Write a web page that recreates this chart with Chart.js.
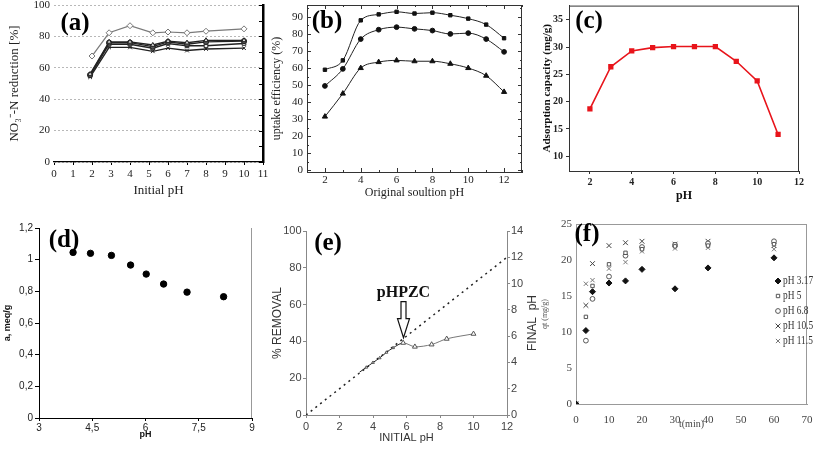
<!DOCTYPE html>
<html>
<head>
<meta charset="utf-8">
<script src="https://cdn.jsdelivr.net/npm/chart.js@4.4.1/dist/chart.umd.min.js"></script>
<style>
  html, body { margin: 0; padding: 0; background: #fff; }
  #wrap { position: relative; width: 813px; height: 450px; overflow: hidden; }
  #wrap canvas { position: absolute; }
</style>
</head>
<body>
<div id="wrap">
  <canvas id="ca" width="270" height="215" style="left:0;top:0"></canvas>
  <canvas id="cb" width="270" height="215" style="left:270px;top:0"></canvas>
  <canvas id="cc" width="273" height="215" style="left:540px;top:0"></canvas>
  <canvas id="cd" width="270" height="235" style="left:0;top:215px"></canvas>
  <canvas id="ce" width="270" height="235" style="left:270px;top:215px"></canvas>
  <canvas id="cf" width="273" height="235" style="left:540px;top:215px"></canvas>
</div>
<script>
// ── Data ─────────────────────────────────────────────────────────────────────

// (a) NO3-N reduction vs initial pH
const aPhUpper = [2, 2.9, 4, 5.2, 6, 7, 8, 10];
const aPhLower = [1.9, 2.9, 4, 5.2, 6, 7, 8, 10];
const aSeries1 = [67.5, 82.3, 86.8, 82.3, 82.8, 82.3, 83.3, 84.8];
const aSeries2 = [56, 76.5, 76.5, 74.5, 77, 76, 77.5, 77.5];
const aSeries3 = [55.5, 76, 76, 73.5, 76.5, 75, 76.5, 77];
const aSeries4 = [55, 75, 75, 72.5, 75.5, 74, 74, 75.5];
const aSeries5 = [54, 73, 73, 70.5, 72.5, 71, 72, 72.5];

// (b) uptake efficiency vs original solution pH
const bPh = [2, 3, 4, 5, 6, 7, 8, 9, 10, 11, 12];
const bSquares = [59, 64.5, 88, 91.5, 93, 92, 92.5, 91, 89, 85.5, 77.5];
const bCircles = [49.5, 59.5, 77, 82.5, 84, 83, 82, 80, 80.5, 77, 69.5];
const bTriangles = [31.5, 45, 60, 63.5, 64.5, 64, 64, 62.5, 60, 55.5, 46];

// (c) adsorption capacity vs pH
const cPh = [2, 3, 4, 5, 6, 7, 8, 9, 10, 11];
const cCapacity = [18.7, 26.4, 29.3, 29.9, 30.1, 30.1, 30.1, 27.4, 23.8, 14.0];

// (d) a (meq/g) vs pH
const dPh = [3.96, 4.45, 5.04, 5.58, 6.02, 6.51, 7.17, 8.2];
const dA = [1.046, 1.04, 1.027, 0.966, 0.909, 0.846, 0.795, 0.766];

// (e) % removal and final pH vs initial pH
const eInitialPh = [3.2, 3.6, 4.0, 4.4, 4.8, 5.2, 5.8, 6.5, 7.5, 8.4, 10.0];
const eRemoval = [23.3, 25.9, 28.5, 31.0, 34.0, 36.5, 39.2, 37.1, 38.3, 41.4, 44.1];
const eDiagPh = [0, 12];
const ePzc = 5.8;

// (f) qt vs time
const fTime = [0, 3, 5, 10, 15, 20, 30, 40, 60];
const fLabels = ['pH 3.17', 'pH 5', 'pH 6.8', 'pH 10.5', 'pH 11.5'];
const fPh317 = [0, 10.2, 15.6, 16.8, 17.1, 18.7, 16.0, 18.9, 20.3];
const fPh5 = [0, 12.1, 16.4, 19.4, 21.0, 21.5, 21.9, 22.0, 22.2];
const fPh68 = [0, 8.8, 14.6, 17.7, 20.6, 21.8, 22.1, 22.3, 22.6];
const fPh105 = [0, 13.7, 19.5, 22.0, 22.4, 22.6, 22.2, 22.6, 22.0];
const fPh115 = [0, 16.7, 17.2, 18.8, 19.7, 21.2, 21.6, 21.7, 21.5];

// ── Setup ────────────────────────────────────────────────────────────────────

const SERIF = "'Liberation Serif', 'Times New Roman', serif";
const SANS = "'Liberation Sans', Arial, sans-serif";

Chart.defaults.animation = false;
Chart.defaults.responsive = false;
Chart.defaults.devicePixelRatio = 1;
Chart.defaults.events = [];
Chart.defaults.plugins.legend.display = false;
Chart.defaults.plugins.tooltip.enabled = false;
Chart.defaults.font.family = SERIF;

const pts = (xs, ys) => xs.map((x, i) => ({ x, y: ys[i] }));
// pin axis sizes so the plot areas land where the reference has them
const fixW = w => s => { s.width = w; s.paddingTop = 0; s.paddingBottom = 0; };
const fixH = h => s => { s.height = h; s.paddingLeft = 0; s.paddingRight = 0; };
const comma = v => String(+Number(v).toFixed(2)).replace('.', ',');

// ── Small plugins ────────────────────────────────────────────────────────────

function framePlugin(sides, color, width = 1) {
  return {
    id: 'frame',
    afterDatasetsDraw(chart) {
      const { left, right, top, bottom } = chart.chartArea;
      const ctx = chart.ctx;
      ctx.save();
      ctx.strokeStyle = color;
      ctx.lineWidth = width;
      ctx.beginPath();
      if (sides.includes('top')) { ctx.moveTo(left, top + 0.5); ctx.lineTo(right, top + 0.5); }
      if (sides.includes('right')) { ctx.moveTo(right - 0.5, top); ctx.lineTo(right - 0.5, bottom); }
      ctx.stroke();
      ctx.restore();
    }
  };
}

function innerTicksPlugin(specs, color) {
  return {
    id: 'innerTicks',
    afterDatasetsDraw(chart) {
      const a = chart.chartArea;
      const ctx = chart.ctx;
      ctx.save();
      ctx.strokeStyle = color;
      ctx.lineWidth = 1;
      ctx.beginPath();
      for (const s of specs) {
        const scale = chart.scales[s.id];
        for (const t of scale.ticks) {
          const r = s.majorStep ? t.value / s.majorStep : 0;
          const len = Math.abs(r - Math.round(r)) < 1e-6 ? s.len : s.minorLen;
          const p = Math.round(scale.getPixelForValue(t.value)) + 0.5;
          for (const side of s.sides) {
            if (side === 'left') { ctx.moveTo(a.left, p); ctx.lineTo(a.left + len, p); }
            if (side === 'right') { ctx.moveTo(a.right, p); ctx.lineTo(a.right - len, p); }
            if (side === 'bottom') { ctx.moveTo(p, a.bottom); ctx.lineTo(p, a.bottom - len); }
            if (side === 'top') { ctx.moveTo(p, a.top); ctx.lineTo(p, a.top + len); }
          }
        }
      }
      ctx.stroke();
      ctx.restore();
    }
  };
}

function notesPlugin(items) {
  return {
    id: 'notes',
    afterDraw(chart) {
      const ctx = chart.ctx;
      for (const it of items) {
        ctx.save();
        ctx.translate(it.x, it.y);
        if (it.rotate) ctx.rotate(it.rotate);
        ctx.font = it.font;
        ctx.fillStyle = it.color || '#000';
        ctx.textAlign = 'center';
        ctx.textBaseline = 'middle';
        ctx.fillText(it.text, 0, 0);
        ctx.restore();
      }
    }
  };
}

// hollow down-arrow pointing at the PZC on panel (e), with its label
function pzcArrowPlugin(xVal, yVal, label) {
  return {
    id: 'pzcArrow',
    afterDraw(chart) {
      const ctx = chart.ctx;
      const x = Math.round(chart.scales.x.getPixelForValue(xVal)) + 0.5;
      const tip = chart.scales.y.getPixelForValue(yVal);
      const top = tip - 36, neck = tip - 19;
      ctx.save();
      ctx.beginPath();
      ctx.moveTo(x - 2.5, top);
      ctx.lineTo(x + 2.5, top);
      ctx.lineTo(x + 2.5, neck);
      ctx.lineTo(x + 6, neck);
      ctx.lineTo(x, tip);
      ctx.lineTo(x - 6, neck);
      ctx.lineTo(x - 2.5, neck);
      ctx.closePath();
      ctx.fillStyle = '#fff';
      ctx.fill();
      ctx.strokeStyle = '#111';
      ctx.lineWidth = 1.2;
      ctx.stroke();
      ctx.font = `bold 16px ${SERIF}`;
      ctx.fillStyle = '#111';
      ctx.textAlign = 'center';
      ctx.textBaseline = 'middle';
      ctx.fillText(label, x, top - 9);
      ctx.restore();
    }
  };
}

// legend inside panel (f): marker + narrow serif text
function markerLegendPlugin(x, y, dy) {
  return {
    id: 'markerLegend',
    afterDraw(chart) {
      const ctx = chart.ctx;
      chart.data.datasets.forEach((ds, i) => {
        const yy = y + i * dy;
        ctx.save();
        ctx.fillStyle = ds.pointBackgroundColor;
        ctx.strokeStyle = ds.pointBorderColor;
        ctx.lineWidth = 1;
        Chart.helpers.drawPoint(ctx, { pointStyle: ds.pointStyle, radius: ds.pointRadius, borderWidth: 1, rotation: 0 }, x, yy);
        ctx.translate(x + 5, yy);
        ctx.scale(0.78, 1);
        ctx.font = `12px ${SERIF}`;
        ctx.fillStyle = '#333';
        ctx.textAlign = 'left';
        ctx.textBaseline = 'middle';
        ctx.fillText(ds.label, 0, 0);
        ctx.restore();
      });
    }
  };
}

// ── (a) ──────────────────────────────────────────────────────────────────────

const lowerA = (ys, style, fill) => ({
  data: pts(aPhLower, ys), showLine: true, borderColor: '#222', borderWidth: 1.4,
  pointStyle: style, pointRadius: 2.6, pointBackgroundColor: fill, pointBorderColor: '#222', pointBorderWidth: 1
});

new Chart(document.getElementById('ca'), {
  type: 'scatter',
  data: {
    datasets: [
      { data: pts(aPhUpper, aSeries1), showLine: true, borderColor: '#7a7a7a', borderWidth: 1.2,
        pointStyle: 'rectRot', pointRadius: 3, pointBackgroundColor: '#fff', pointBorderColor: '#777', pointBorderWidth: 1 },
      lowerA(aSeries2, 'triangle', '#ddd'),
      lowerA(aSeries3, 'circle', '#555'),
      lowerA(aSeries4, 'rect', '#eee'),
      lowerA(aSeries5, 'crossRot', '#222')
    ]
  },
  options: {
    layout: { padding: { left: 7, top: 5, right: 0, bottom: 17 } },
    scales: {
      x: {
        min: 0, max: 11,
        ticks: { stepSize: 1, autoSkip: false, maxRotation: 0, color: '#222', font: { size: 11 }, padding: 3 },
        grid: { drawOnChartArea: false, tickLength: 3, color: '#000' },
        border: { color: '#000', width: 1.2 },
        title: { display: true, text: 'Initial pH', font: { size: 13 }, color: '#222', padding: 0 },
        afterFit: fixH(36)
      },
      y: {
        min: 0, max: 100,
        ticks: { stepSize: 20, color: '#222', font: { size: 11 }, padding: 4 },
        grid: { color: '#b8b8b8', drawTicks: false },
        border: { display: false, dash: [2, 2] },
        title: { display: true, text: 'NO₃⁻-N reduction [%]', font: { size: 13 }, color: '#222', padding: 0 },
        afterFit: fixW(47)
      },
      y2: {
        position: 'right', min: 0, max: 100,
        ticks: { display: false, stepSize: 10 },
        grid: { drawOnChartArea: false, drawTicks: false },
        border: { color: '#000', width: 2.5 },
        afterFit: fixW(7)
      }
    }
  },
  plugins: [
    innerTicksPlugin([{ id: 'y2', sides: ['right'], len: 4 }], '#000'),
    notesPlugin([{ text: '(a)', x: 75, y: 24, font: `bold 25px ${SERIF}` }])
  ]
});

// ── (b) ──────────────────────────────────────────────────────────────────────

const curveB = (ys, style, r) => ({
  data: pts(bPh, ys), showLine: true, cubicInterpolationMode: 'monotone',
  borderColor: '#222', borderWidth: 1, pointStyle: style, pointRadius: r,
  pointBackgroundColor: '#111', pointBorderColor: '#111'
});

new Chart(document.getElementById('cb'), {
  type: 'scatter',
  data: { datasets: [curveB(bSquares, 'rect', 2.4), curveB(bCircles, 'circle', 2.4), curveB(bTriangles, 'triangle', 3)] },
  options: {
    layout: { padding: { left: 0, top: 4, right: 18, bottom: 15 } },
    scales: {
      x: {
        min: 1, max: 13,
        ticks: { stepSize: 1, includeBounds: false, autoSkip: false, maxRotation: 0, color: '#222', font: { size: 11 }, padding: 2,
                 callback: v => (v % 2 === 0 ? v : '') },
        grid: { display: false, drawTicks: false },
        border: { color: '#333', width: 1 },
        title: { display: true, text: 'Original soultion pH', font: { size: 12 }, color: '#222', padding: 0 },
        afterFit: fixH(28)
      },
      y: {
        min: -1, max: 97,
        ticks: { stepSize: 5, includeBounds: false, autoSkip: false, color: '#222', font: { size: 11 }, padding: 4,
                 callback: v => (v % 10 === 0 ? v : '') },
        grid: { display: false, drawTicks: false },
        border: { color: '#333', width: 1 },
        title: { display: true, text: 'uptake efficiency (%)', font: { size: 12 }, color: '#222', padding: 0 },
        afterFit: fixW(37)
      }
    }
  },
  plugins: [
    framePlugin(['top', 'right'], '#333'),
    innerTicksPlugin([
      { id: 'x', sides: ['bottom', 'top'], len: 4, minorLen: 2, majorStep: 2 },
      { id: 'y', sides: ['left', 'right'], len: 4, minorLen: 2, majorStep: 10 }
    ], '#333'),
    notesPlugin([{ text: '(b)', x: 57, y: 22, font: `bold 25px ${SERIF}` }])
  ]
});

// ── (c) ──────────────────────────────────────────────────────────────────────

new Chart(document.getElementById('cc'), {
  type: 'scatter',
  data: {
    datasets: [{
      data: pts(cPh, cCapacity), showLine: true, borderColor: '#e8141b', borderWidth: 1.6,
      pointStyle: 'rect', pointRadius: 2.6, pointBackgroundColor: '#e8141b', pointBorderColor: '#e8141b'
    }]
  },
  options: {
    layout: { padding: { left: 1, top: 5, right: 14, bottom: 12 } },
    scales: {
      x: {
        min: 1, max: 12,
        ticks: { stepSize: 2, includeBounds: false, autoSkip: false, maxRotation: 0, color: '#222', font: { size: 10, weight: 'bold' }, padding: 2 },
        grid: { drawOnChartArea: false, tickLength: 3, color: '#333' },
        border: { color: '#333' },
        title: { display: true, text: 'pH', font: { size: 12, weight: 'bold' }, color: '#111', padding: 0 },
        afterFit: fixH(32)
      },
      y: {
        min: 7.3, max: 37.6,
        ticks: { stepSize: 5, includeBounds: false, color: '#222', font: { size: 10, weight: 'bold' }, padding: 3 },
        grid: { drawOnChartArea: false, tickLength: 3, color: '#333' },
        border: { color: '#333' },
        title: { display: true, text: 'Adsorption capacity (mg/g)', font: { size: 11, weight: 'bold' }, color: '#111', padding: 0 },
        afterFit: fixW(28)
      }
    }
  },
  plugins: [
    framePlugin(['top', 'right'], '#333'),
    notesPlugin([{ text: '(c)', x: 49, y: 22, font: `bold 25px ${SERIF}` }])
  ]
});

// ── (d) ──────────────────────────────────────────────────────────────────────

new Chart(document.getElementById('cd'), {
  type: 'scatter',
  data: {
    datasets: [{ data: pts(dPh, dA), pointRadius: 3.2, pointBackgroundColor: '#000', pointBorderColor: '#000' }]
  },
  options: {
    layout: { padding: { left: 2, top: 13, right: 18, bottom: 10 } },
    scales: {
      x: {
        min: 3, max: 9,
        ticks: { stepSize: 1.5, autoSkip: false, maxRotation: 0, color: '#222', font: { family: SANS, size: 10 }, padding: 1, callback: comma },
        grid: { drawOnChartArea: false, tickLength: 3, color: '#000' },
        border: { color: '#000' },
        title: { display: true, text: 'pH', font: { family: SANS, size: 9, weight: 'bold' }, color: '#111', padding: 0 },
        afterFit: fixH(22)
      },
      y: {
        min: 0, max: 1.2,
        ticks: { stepSize: 0.2, color: '#222', font: { family: SANS, size: 10 }, padding: 2, callback: comma },
        grid: { drawOnChartArea: false, tickLength: 4, color: '#000' },
        border: { color: '#000' },
        title: { display: true, text: 'a, meq/g', font: { family: SANS, size: 9, weight: 'bold' }, color: '#111', padding: 0 },
        afterFit: fixW(37)
      }
    }
  },
  plugins: [
    framePlugin(['right'], '#999'),
    notesPlugin([{ text: '(d)', x: 64, y: 26, font: `bold 25px ${SERIF}` }])
  ]
});

// ── (e) ──────────────────────────────────────────────────────────────────────

const greyAxis = (extra) => Object.assign({
  grid: { drawOnChartArea: false, tickLength: 3, color: '#888' },
  border: { color: '#888' }
}, extra);

new Chart(document.getElementById('ce'), {
  type: 'scatter',
  data: {
    datasets: [
      {
        data: pts(eInitialPh, eRemoval), showLine: true, tension: 0.3, borderWidth: 1,
        segment: { borderColor: c => (c.p1DataIndex <= 6 ? '#222' : '#777') },
        pointStyle: 'triangle', pointBackgroundColor: '#fff', pointBorderColor: '#555', pointBorderWidth: 1,
        pointRadius: c => (c.dataIndex === 0 ? 0 : c.dataIndex < 6 ? 1.6 : 2.8)
      },
      {
        data: pts(eDiagPh, eDiagPh), yAxisID: 'yR', showLine: true, borderColor: '#222',
        borderWidth: 1.5, borderDash: [2, 4], pointRadius: 0
      }
    ]
  },
  options: {
    layout: { padding: { left: 0, top: 16, right: 0, bottom: 5 } },
    scales: {
      x: greyAxis({
        min: 0, max: 12,
        ticks: { stepSize: 2, autoSkip: false, maxRotation: 0, color: '#444', font: { family: SANS, size: 11 }, padding: 2 },
        title: { display: true, text: 'INITIAL pH', font: { family: SANS, size: 11 }, color: '#333', padding: 0 },
        afterFit: fixH(30)
      }),
      y: greyAxis({
        min: 0, max: 100,
        ticks: { stepSize: 20, color: '#444', font: { family: SANS, size: 11 }, padding: 1.5 },
        title: { display: true, text: '% REMOVAL', font: { family: SANS, size: 12 }, color: '#333', padding: 0 },
        afterFit: fixW(36)
      }),
      yR: greyAxis({
        position: 'right', min: 0, max: 14,
        ticks: { stepSize: 2, color: '#444', font: { family: SANS, size: 11 }, padding: 1 },
        afterFit: fixW(33)
      })
    }
  },
  plugins: [
    pzcArrowPlugin(ePzc, 42, 'pHPZC'),
    notesPlugin([
      { text: '(e)', x: 58, y: 29, font: `bold 25px ${SERIF}` },
      { text: 'FINAL  pH', x: 263, y: 108, rotate: -Math.PI / 2, font: `12px ${SANS}`, color: '#333' }
    ])
  ]
});

// ── (f) ──────────────────────────────────────────────────────────────────────

const kinetics = (label, ys, style, r, fill, stroke) => ({
  label, data: pts(fTime, ys), pointStyle: style, pointRadius: r,
  pointBackgroundColor: fill, pointBorderColor: stroke, pointBorderWidth: 1
});

new Chart(document.getElementById('cf'), {
  type: 'scatter',
  data: {
    datasets: [
      kinetics(fLabels[0], fPh317, 'rectRot', 3, '#111', '#111'),
      kinetics(fLabels[1], fPh5, 'rect', 2.4, '#fff', '#555'),
      kinetics(fLabels[2], fPh68, 'circle', 2.4, '#fff', '#555'),
      kinetics(fLabels[3], fPh105, 'crossRot', 3.4, '#444', '#444'),
      kinetics(fLabels[4], fPh115, 'crossRot', 3, '#777', '#777')
    ]
  },
  options: {
    layout: { padding: { left: 0, top: 9, right: 6, bottom: 20 } },
    scales: {
      x: {
        min: 0, max: 70,
        ticks: { stepSize: 10, autoSkip: false, maxRotation: 0, color: '#444', font: { size: 11 }, padding: 10 },
        grid: { display: false, drawTicks: false },
        border: { color: '#999' },
        title: { display: true, text: 't(min)', font: { size: 10 }, color: '#444', padding: 0 },
        afterFit: fixH(26)
      },
      y: {
        min: 0, max: 25,
        ticks: { stepSize: 5, color: '#444', font: { size: 11 }, padding: 4 },
        grid: { display: false, drawTicks: false },
        border: { color: '#999' },
        title: { display: true, text: 'qt (mg/g)', font: { size: 8 }, color: '#555', padding: 0 },
        afterFit: fixW(36)
      }
    }
  },
  plugins: [
    framePlugin(['top', 'right'], '#999'),
    markerLegendPlugin(238, 66, 15),
    notesPlugin([{ text: '(f)', x: 47, y: 20, font: `bold 25px ${SERIF}` }])
  ]
});
</script>
</body>
</html>
